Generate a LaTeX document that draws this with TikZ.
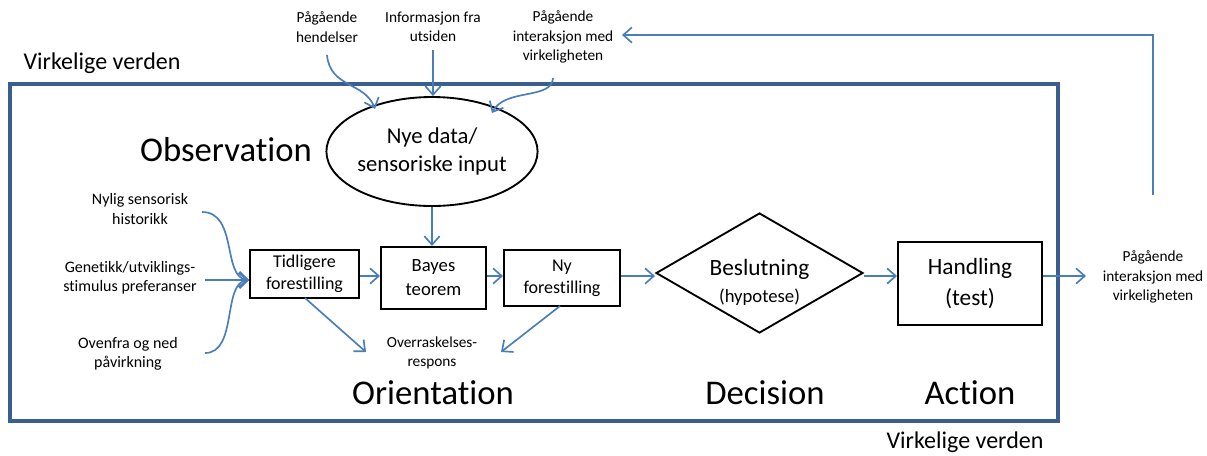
\documentclass[tikz,border=0pt]{standalone}
\usepackage{fontspec}
\setmainfont{Carlito}[Ligatures=NoCommon]
\usetikzlibrary{arrows.meta,shapes.geometric}
\definecolor{arrblue}{HTML}{4A7EBB}
\definecolor{frameblue}{HTML}{3A5F8F}
\tikzset{
  conn/.style={draw=arrblue, line width=1.25pt, -{Straight Barb[length=6.5pt,width=11.5pt,line width=1.25pt]}},
  box/.style={draw=black, line width=1.5pt, rectangle, inner sep=0pt, align=center},
  small/.style={align=center, font=\fontsize{11.5}{14.5}\selectfont, inner sep=0pt},
  side/.style={align=center, font=\fontsize{12}{14.5}\selectfont, inner sep=0pt},
  big/.style={font=\fontsize{26}{31}\selectfont, inner sep=0pt},
  world/.style={font=\fontsize{18}{22}\selectfont, inner sep=0pt},
}
\begin{document}
\begin{tikzpicture}[x=0.75pt,y=-0.75pt]
\useasboundingbox (0,0) rectangle (1207,455);
% frame
\node[draw=frameblue, line width=2.3pt, rectangle, minimum width=786pt, minimum height=252.75pt, inner sep=0pt] (frame) at (534,252.5) {};
\node[world] (vvtop) at (102,63) {Virkelige verden};
\node[world] (vvbot) at (965,442) {Virkelige verden};
% big labels
\node[big] (obs) at (226,150) {Observation};
\node[big] (orient) at (433,393) {Orientation};
\node[big] (decis) at (765,393) {Decision};
\node[big] (action) at (970,393) {Action};
% top labels
\node[small] (hend) at (327,27) {Pågående\\hendelser};
\node[small] (info) at (433,27) {Informasjon fra\\utsiden};
\node[small] (pagtop) at (563,37) {Pågående\\interaksjon med\\virkeligheten};
% ellipse
\node[draw=black, line width=1.4pt, ellipse, minimum width=129pt, minimum height=81.75pt, inner sep=0pt, align=center, font=\fontsize{17}{21}\selectfont] (nye) at (432,151.5) {Nye data/\\sensoriske input};
% boxes
\node[box, minimum width=81.75pt, minimum height=36pt, font=\fontsize{13.5}{16.5}\selectfont] (tidl) at (304.5,274) {Tidligere\\forestilling};
\node[box, minimum width=78.75pt, minimum height=46.5pt, font=\fontsize{14}{18}\selectfont] (bayes) at (433.5,278) {Bayes\\teorem};
\node[box, minimum width=87pt, minimum height=42pt, font=\fontsize{13.5}{16.5}\selectfont] (ny) at (562,278) {Ny\\forestilling};
\node[draw=black, line width=1.4pt, diamond, minimum width=155.25pt, minimum height=90pt, inner sep=0pt] (besl) at (759.5,273) {};
\node[inner sep=0pt, font=\fontsize{17.5}{20}\selectfont] (beslt) at (759.5,269) {Beslutning};
\node[inner sep=0pt, font=\fontsize{14}{17}\selectfont] (hyp) at (759.5,297) {(hypotese)};
\node[box, minimum width=108pt, minimum height=62.25pt, font=\fontsize{17.5}{23}\selectfont] (hand) at (970,283.5) {Handling\\(test)};
% left labels
\node[side] (nylig) at (140,209) {Nylig sensorisk\\historikk};
\node[side] (genet) at (130,278) {Genetikk/utviklings-\\stimulus preferanser};
\node[side] (ovenf) at (128,354) {Ovenfra og ned\\påvirkning};
\node[small] (overr) at (432,353) {Overraskelses-\\respons};
\node[small] (pagr) at (1153,277) {Pågående\\interaksjon med\\virkeligheten};
% coordinates
\coordinate (hendS) at (327,55);
\coordinate (hendE) at (375,109);
\coordinate (infoS) at (433,50);
\coordinate (pagS) at (553,78);
\coordinate (pagE) at (492,113);
\coordinate (nylS) at (202,212);
\coordinate (genS) at (205,280);
\coordinate (ovS) at (205,353);
\coordinate (join) at (249,280);
\coordinate (tidlB) at (305,298);
\coordinate (overrL) at (366,352);
\coordinate (nyB) at (560,306);
\coordinate (overrR) at (501,352);
\coordinate (outE) at (1086,276);
\coordinate (loopS) at (1153,195);
\coordinate (loopE) at (622,35);
% arrows
\draw[conn] (hendS) .. controls (330,88) and (365,82) .. (hendE);
\draw[conn] (infoS) -- (infoS |- nye.north);
\draw[conn] (pagS) .. controls (552,100) and (505,88) .. (pagE);
\draw[conn] (nye.south) -- (nye.south |- bayes.north);
\draw[conn] (nylS) .. controls (238,212) and (222,278) .. (join);
\draw[conn] (genS) -- (join);
\draw[conn] (ovS) .. controls (238,353) and (222,282) .. (join);
\draw[conn] (tidl.east |- 0,276) -- (bayes.west |- 0,276);
\draw[conn] (bayes.east |- 0,276) -- (ny.west |- 0,276);
\draw[conn] (ny.east |- 0,276) -- (besl.west |- 0,276);
\draw[conn] (besl.east |- 0,276) -- (hand.west |- 0,276);
\draw[conn] (hand.east |- 0,276) -- (outE);
\draw[conn] (tidlB) -- (overrL);
\draw[conn] (nyB) -- (overrR);
\draw[conn] (loopS) -- (1153,35) -- (loopE);
\end{tikzpicture}
\end{document}
